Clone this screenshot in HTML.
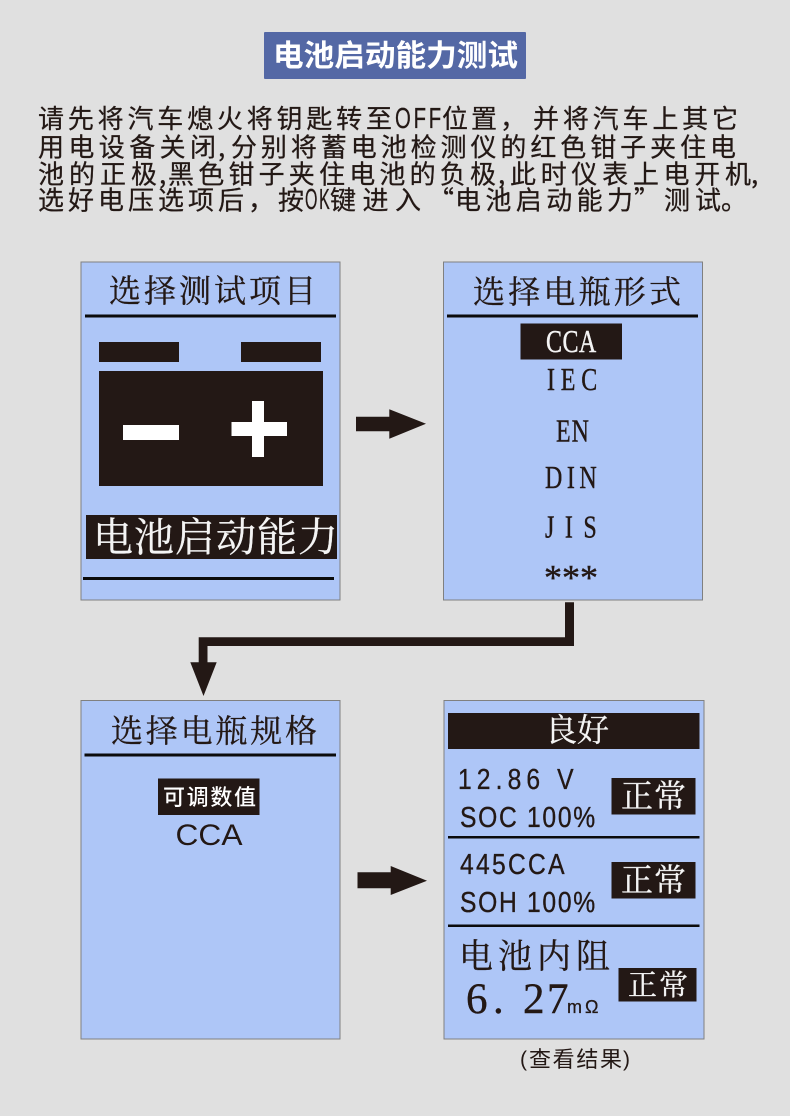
<!DOCTYPE html>
<html><head><meta charset="utf-8"><style>
html,body{margin:0;padding:0;background:#e0e0e0;width:790px;height:1116px;overflow:hidden}
svg{display:block}
.b{font-family:"Noto Sans CJK SC",sans-serif;font-size:26px;fill:#231815;stroke:#231815;stroke-width:.25}
.l{font-family:"Liberation Sans",sans-serif;font-size:29px;fill:#231815;stroke:#231815;stroke-width:.3}
.t{font-family:"Liberation Sans","Noto Sans CJK SC",sans-serif;font-size:30px;font-weight:700;fill:#fff}
.s{font-family:"Liberation Serif","Noto Serif CJK SC",serif;font-size:32px;fill:#231815;stroke:#231815;stroke-width:.3}
.e{font-family:"Liberation Serif",serif;font-size:32px;fill:#231815;stroke:#231815;stroke-width:.4}
.m{font-family:"Liberation Sans",sans-serif;font-size:30px;fill:#231815}
.n{font-family:"Liberation Sans",sans-serif;font-size:29px;fill:#231815;stroke:#231815;stroke-width:.35}
.w{fill:#f4f4f4;stroke:#f4f4f4}
</style></head><body>
<svg width="790" height="1116" viewBox="0 0 790 1116" xmlns="http://www.w3.org/2000/svg">
<rect width="790" height="1116" fill="#e0e0e0"/>
<rect x="264" y="32" width="262" height="47" rx="1" fill="#5468a5"/>
<text class="t" x="273" y="66" textLength="245" lengthAdjust="spacingAndGlyphs">电池启动能力测试</text>

<text class="b" x="38" y="128" textLength="354">请先将汽车熄火将钥匙转至</text>
<text class="l" transform="translate(395,128) scale(.7,1)" textLength="66">OFF</text>
<text class="b" x="442" y="128" textLength="84">位置，</text>
<text class="b" x="533" y="128" textLength="205">并将汽车上其它</text>

<text class="b" x="38" y="156.500" textLength="178">用电设备关闭</text>
<text class="b" x="218" y="156.500" textLength="10">,</text>
<text class="b" x="231" y="156.500" textLength="505">分别将蓄电池检测仪的红色钳子夹住电</text>

<text class="b" x="38" y="183.500" textLength="119">池的正极</text>
<text class="b" x="159" y="183.500" textLength="8">,</text>
<text class="b" x="168" y="183.500" textLength="328">黑色钳子夹住电池的负极</text>
<text class="b" x="498" y="183.500" textLength="8">,</text>
<text class="b" x="510" y="183.500" textLength="241">此时仪表上电开机</text>
<text class="b" x="751" y="183.500" textLength="5">,</text>

<text class="b" x="38" y="209.500" textLength="236">选好电压选项后，</text>
<text class="b" x="278" y="209.500" textLength="26">按</text>
<text class="l" transform="translate(305,209) scale(.55,1)" textLength="45">OK</text>
<text class="b" x="330" y="209.500" textLength="91">键进入</text>
<text class="b" x="428" y="209.500">“</text>
<text class="b" x="455" y="209.500" textLength="178">电池启动能力</text>
<text class="b" x="634" y="209.500">”</text>
<text class="b" x="664" y="209.500" textLength="57">测试</text>
<text class="b" x="721" y="209.500">。</text>

<!-- panel 1 -->
<rect x="81" y="262" width="259" height="338" fill="#aec6f7" stroke="#808080" stroke-width="1"/>
<text class="s" x="109" y="302" textLength="207">选择测试项目</text>
<rect x="85" y="314.500" width="251" height="3" fill="#0b0b0b"/>
<rect x="99" y="342" width="80" height="20" fill="#231815"/>
<rect x="241" y="342" width="80" height="20" fill="#231815"/>
<rect x="99" y="371" width="224" height="115" fill="#231815"/>
<rect x="123" y="425" width="56" height="15" fill="#fff"/>
<rect x="231.500" y="422" width="55.500" height="14" fill="#fff"/>
<rect x="252" y="401" width="12" height="56" fill="#fff"/>
<rect x="86" y="515" width="251" height="44" fill="#231815"/>
<text class="s w" style="font-size:40px" x="93" y="551" textLength="245">电池启动能力</text>
<rect x="83" y="577" width="251" height="3" fill="#0b0b0b"/>

<!-- panel 2 -->
<rect x="443.500" y="262" width="259" height="338" fill="#aec6f7" stroke="#808080" stroke-width="1"/>
<text class="s" x="473" y="303" textLength="208">选择电瓶形式</text>
<rect x="447" y="314.500" width="251" height="3" fill="#0b0b0b"/>
<rect x="520.500" y="323.500" width="101.500" height="36" fill="#231815"/>
<text class="e w" transform="translate(546,352) scale(.75,1)" textLength="67">CCA</text>
<text class="e" transform="translate(547,390) scale(.75,1)" textLength="67">IEC</text>
<text class="e" transform="translate(556,441.500) scale(.75,1)" textLength="44">EN</text>
<text class="e" transform="translate(545,488) scale(.75,1)" textLength="69">DIN</text>
<text class="e" transform="translate(545,537.500) scale(.75,1)" textLength="69">JIS</text>
<text class="e" style="font-size:36px" x="544" y="589.500">***</text>

<!-- arrows -->
<polygon fill="#231815" points="356,416.700 389.300,416.700 389.300,409.300 426,423.700 389.300,438.700 389.300,431.300 356,431.300"/>
<polygon fill="#231815" points="565,602.300 574,602.300 574,646 207.500,646 207.500,662.300 216.700,662.300 203.500,696 190.300,662.300 198.700,662.300 198.700,637.300 565,637.300"/>
<polygon fill="#231815" points="357.500,872.300 390.700,872.300 390.700,866 427,880.700 390.700,895 390.700,888.300 357.500,888.300"/>

<!-- panel 3 -->
<rect x="81" y="700.500" width="259" height="338.500" fill="#aec6f7" stroke="#808080" stroke-width="1"/>
<text class="s" x="111" y="742" textLength="206">选择电瓶规格</text>
<rect x="84.500" y="753.500" width="251.500" height="3" fill="#0b0b0b"/>
<rect x="158" y="778.500" width="101.500" height="36.500" fill="#231815"/>
<text x="163" y="805" textLength="93" style="font-family:'Noto Sans CJK SC',sans-serif;font-size:22px;font-weight:500;fill:#fff">可调数值</text>
<text class="m" x="175.500" y="845" textLength="67" lengthAdjust="spacingAndGlyphs">CCA</text>

<!-- panel 4 -->
<rect x="444" y="700.500" width="260" height="338.500" fill="#aec6f7" stroke="#808080" stroke-width="1"/>
<rect x="448" y="713" width="251.500" height="36" fill="#231815"/>
<text class="s w" x="545" y="741" textLength="64">良好</text>
<text class="n" transform="translate(458,789) scale(.85,1)" textLength="136">12.86 V</text>
<text class="n" transform="translate(460,827) scale(.85,1)" textLength="159">SOC 100%</text>
<rect x="448" y="836" width="251.500" height="2.500" fill="#0b0b0b"/>
<rect x="611.500" y="778" width="84" height="36.500" fill="#231815"/>
<text class="s w" x="621" y="807" textLength="65">正常</text>
<text class="n" transform="translate(460,874) scale(.85,1)" textLength="123">445CCA</text>
<text class="n" transform="translate(460,912) scale(.85,1)" textLength="159">SOH 100%</text>
<rect x="448" y="924.500" width="251.500" height="2.500" fill="#0b0b0b"/>
<rect x="611.500" y="862" width="84" height="36.500" fill="#231815"/>
<text class="s w" x="621" y="891" textLength="65">正常</text>
<text class="s" style="font-size:34px" x="459" y="968" textLength="151">电池内阻</text>
<text class="e" style="font-size:43px" x="466 493 500 523 547" y="1013">6. 27</text>
<text x="567 585" y="1013" style="font-family:'Liberation Sans',sans-serif;font-size:18px;fill:#231815;stroke:#231815;stroke-width:.3">mΩ</text>
<rect x="618.500" y="968" width="78" height="33.500" fill="#231815"/>
<text class="s w" style="font-size:29px" x="628" y="995" textLength="60">正常</text>
<text x="520" y="1066" style="font-family:'Liberation Sans',sans-serif;font-size:21px;fill:#231815">(</text>
<text x="529" y="1067" textLength="93" style="font-family:'Noto Sans CJK SC',sans-serif;font-size:22px;fill:#231815">查看结果</text>
<text x="623" y="1066" style="font-family:'Liberation Sans',sans-serif;font-size:21px;fill:#231815">)</text>
</svg>
</body></html>
